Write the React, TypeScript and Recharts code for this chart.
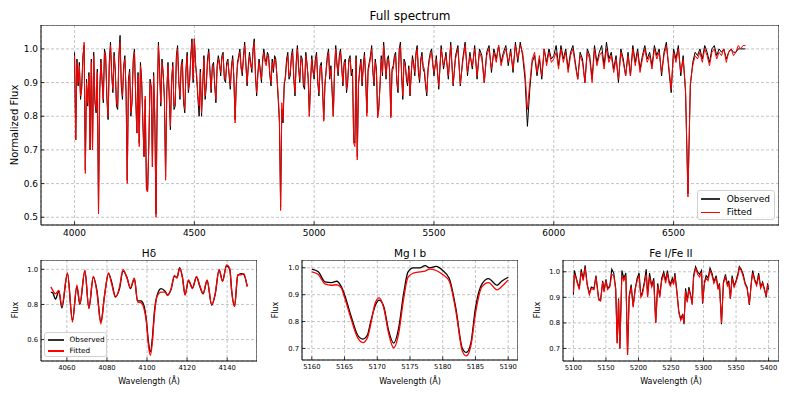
import React from "react";
import { CartesianGrid, Line, LineChart, ReferenceArea, XAxis, YAxis } from "recharts";

// Full spectrum, blue part: every 5 Å from 4000 to 5500
const BLUE_START = 4000;
const BLUE_STEP = 5;
const BLUE_FIT = [
  0.98, 0.73, 0.96, 0.90, 0.95, 0.86, 0.88, 0.97, 1.02, 0.63, 0.90, 0.84, 0.92, 0.70, 0.96, 0.70, 0.98, 0.85, 0.82, 0.93,
  0.51, 0.88, 0.96, 0.90, 0.85, 0.99, 0.97, 0.86, 0.80, 0.95, 1.01, 0.92, 0.88, 0.98, 0.93, 0.84, 0.83, 0.97, 1.02, 0.90,
  0.86, 0.94, 0.97, 0.88, 0.60, 0.90, 0.93, 0.81, 0.85, 0.96, 0.99, 0.87, 0.75, 0.92, 0.71, 0.95, 0.90, 0.79, 0.68, 0.86,
  0.58, 0.575, 0.72, 0.90, 0.88, 0.65, 0.92, 0.80, 0.50, 0.85, 1.01, 0.93, 0.84, 0.96, 0.92, 0.86, 0.61, 0.88, 0.95, 0.87,
  0.77, 0.91, 0.95, 0.83, 0.84, 0.97, 1.00, 0.90, 0.86, 0.94, 0.96, 0.85, 0.82, 0.93, 0.98, 0.88, 0.90, 0.97, 1.02, 0.91,
  1.03, 0.95, 0.92, 0.86, 0.83, 0.93, 0.81, 0.90, 0.97, 0.86, 0.90, 0.96, 0.99, 0.93, 0.88, 0.94, 0.95, 0.90, 0.85, 0.94,
  0.97, 0.95, 0.93, 0.97, 0.98, 0.92, 0.91, 0.95, 0.96, 0.93, 0.89, 0.94, 0.97, 0.92, 0.78, 0.90, 0.95, 0.97, 0.99, 0.94,
  0.93, 0.97, 1.01, 0.95, 0.90, 0.94, 0.98, 0.95, 0.94, 0.99, 1.02, 0.93, 0.87, 0.92, 0.96, 0.93, 0.91, 0.96, 0.99, 0.96,
  0.95, 0.98, 0.97, 0.93, 0.90, 0.96, 0.94, 0.97, 0.96, 0.92, 0.86, 0.80, 0.52, 0.84, 0.79, 0.90, 0.91, 0.96, 0.98, 0.92,
  0.93, 0.97, 0.99, 0.92, 0.87, 0.95, 1.00, 0.94, 0.91, 0.97, 0.96, 0.90, 0.89, 0.98, 0.95, 0.92, 0.80, 0.91, 0.97, 0.93,
  0.92, 0.96, 0.98, 0.91, 0.87, 0.94, 0.95, 0.89, 0.785, 0.90, 0.93, 0.97, 0.99, 0.92, 0.94, 0.88, 0.80, 0.93, 1.00, 0.95,
  0.93, 0.97, 0.99, 0.94, 0.90, 0.95, 0.96, 0.88, 0.91, 0.96, 0.97, 0.93, 0.93, 0.72, 0.71, 0.97, 0.67, 0.90, 0.93, 0.96,
  0.90, 0.94, 0.98, 0.92, 0.80, 0.93, 0.95, 0.97, 1.00, 0.94, 0.90, 0.96, 0.93, 0.795, 0.82, 0.90, 0.97, 0.93, 1.01, 0.96,
  0.92, 0.96, 0.97, 0.94, 0.795, 0.93, 0.94, 0.97, 0.98, 0.91, 0.88, 0.99, 1.01, 0.93, 0.86, 0.96, 0.95, 0.92, 0.90, 0.94,
  0.865, 0.93, 0.97, 0.95, 0.93, 0.98, 1.00, 0.94, 0.91, 0.96, 0.98, 0.95, 0.94, 0.90, 0.87, 0.93, 0.96, 0.98, 0.99, 0.95,
  0.93,
];
const BLUE_OBS = [
  0.99, 0.73, 0.97, 0.89, 0.96, 0.85, 0.89, 0.98, 1.01, 0.64, 0.91, 0.83, 0.93, 0.70, 0.97, 0.70, 0.99, 0.84, 0.81, 0.94,
  0.51, 0.87, 0.97, 0.91, 0.84, 1.00, 0.98, 0.85, 0.79, 0.96, 1.02, 0.93, 0.87, 0.99, 0.94, 0.83, 0.82, 0.98, 1.04, 0.89,
  0.85, 0.95, 0.98, 0.87, 0.61, 0.91, 0.94, 0.80, 0.84, 0.97, 1.00, 0.86, 0.75, 0.93, 0.72, 0.96, 0.91, 0.78, 0.68, 0.85,
  0.59, 0.58, 0.71, 0.91, 0.89, 0.65, 0.93, 0.79, 0.51, 0.84, 1.02, 0.94, 0.83, 0.97, 0.93, 0.85, 0.62, 0.87, 0.96, 0.86,
  0.76, 0.90, 0.96, 0.82, 0.83, 0.98, 1.01, 0.91, 0.85, 0.95, 0.97, 0.84, 0.81, 0.94, 0.99, 0.87, 0.90, 0.98, 1.03, 0.90,
  1.03, 0.96, 0.91, 0.85, 0.80, 0.94, 0.80, 0.89, 0.98, 0.85, 0.89, 0.97, 1.00, 0.94, 0.87, 0.95, 0.96, 0.89, 0.84, 0.95,
  0.98, 0.96, 0.92, 0.98, 0.99, 0.91, 0.90, 0.96, 0.97, 0.92, 0.88, 0.95, 0.98, 0.91, 0.79, 0.89, 0.96, 0.98, 1.00, 0.95,
  0.92, 0.98, 1.02, 0.96, 0.89, 0.95, 0.99, 0.96, 0.93, 1.00, 1.03, 0.92, 0.86, 0.93, 0.97, 0.94, 0.90, 0.97, 1.00, 0.97,
  0.96, 0.99, 0.98, 0.92, 0.89, 0.97, 0.93, 0.98, 0.97, 0.91, 0.85, 0.78, 0.53, 0.82, 0.78, 0.89, 0.92, 0.97, 0.99, 0.91,
  0.92, 0.98, 1.00, 0.91, 0.86, 0.96, 1.01, 0.95, 0.90, 0.98, 0.97, 0.89, 0.88, 0.99, 0.96, 0.91, 0.80, 0.90, 0.98, 0.94,
  0.91, 0.97, 0.99, 0.90, 0.86, 0.95, 0.96, 0.88, 0.79, 0.89, 0.94, 0.98, 1.00, 0.91, 0.95, 0.87, 0.80, 0.94, 1.01, 0.96,
  0.92, 0.98, 1.00, 0.95, 0.89, 0.96, 0.97, 0.87, 0.90, 0.97, 0.98, 0.92, 0.94, 0.73, 0.72, 0.98, 0.68, 0.89, 0.94, 0.97,
  0.89, 0.95, 0.99, 0.91, 0.81, 0.94, 0.96, 0.98, 1.01, 0.93, 0.89, 0.97, 0.94, 0.80, 0.83, 0.89, 0.98, 0.92, 1.02, 0.97,
  0.91, 0.97, 0.98, 0.93, 0.80, 0.94, 0.95, 0.98, 0.99, 0.90, 0.87, 1.00, 1.02, 0.92, 0.85, 0.97, 0.96, 0.91, 0.89, 0.95,
  0.86, 0.92, 0.98, 0.96, 0.92, 0.99, 1.01, 0.93, 0.90, 0.97, 0.99, 0.94, 0.93, 0.89, 0.86, 0.94, 0.97, 0.99, 1.00, 0.96,
  0.92,
];

// Full spectrum, red part: every 10 Å from 5510 to 6800
const RED_START = 5510;
const RED_STEP = 10;
const RED_FIT = [
  0.97, 0.89, 1.00, 0.95, 0.98, 0.92, 1.01, 0.895, 0.97,
  1.00, 0.895, 0.96, 1.01, 0.93, 0.98, 0.95, 1.00, 0.92, 0.99,
  0.97, 0.90, 0.98, 1.00, 0.94, 0.99, 0.96, 1.01, 0.95, 0.98,
  1.00, 0.96, 0.99, 0.94, 1.01, 0.97, 1.01, 0.99, 0.93, 0.82,
  0.90, 0.97, 0.99, 0.93, 0.98, 0.92, 1.00, 0.95, 0.99, 0.96,
  0.97, 0.99, 0.94, 1.00, 0.96, 0.99, 0.93, 0.98, 1.00, 0.95,
  0.91, 0.98, 0.96, 0.90, 0.99, 0.97, 0.90, 1.00, 0.95, 0.98,
  0.99, 0.94, 1.00, 0.96, 0.98, 0.93, 0.97, 0.91, 0.99, 0.96,
  0.92, 0.98, 0.92, 1.00, 0.95, 0.99, 0.93, 0.97, 1.00, 0.96,
  0.98, 0.94, 1.00, 0.97, 0.99, 0.93, 0.98, 1.01, 0.95, 0.88,
  0.99, 0.96, 1.00, 0.93, 0.97, 0.88, 0.56, 0.90, 0.95, 0.98,
  0.97, 0.99, 0.96, 1.00, 0.98, 0.95, 0.99, 1.00, 0.97, 0.99,
  0.98, 1.00, 0.96, 0.99, 1.00, 0.98, 0.99, 1.01, 1.00, 1.01,
  1.01,
];
const RED_OBS = [
  0.98, 0.88, 1.01, 0.94, 0.99, 0.91, 1.02, 0.89, 0.98,
  1.01, 0.89, 0.97, 1.02, 0.92, 0.99, 0.94, 1.01, 0.91, 1.00,
  0.98, 0.90, 0.99, 1.01, 0.93, 1.00, 0.97, 1.01, 0.96, 0.99,
  1.01, 0.95, 1.00, 0.93, 1.02, 0.96, 1.02, 0.98, 0.91, 0.77,
  0.88, 0.96, 0.98, 0.92, 0.97, 0.91, 1.00, 0.96, 1.00, 0.97,
  0.98, 1.01, 0.95, 1.01, 0.97, 1.00, 0.94, 0.99, 1.01, 0.96,
  0.91, 0.99, 0.97, 0.90, 1.00, 0.98, 0.91, 1.01, 0.96, 0.99,
  1.01, 0.95, 1.02, 0.97, 0.99, 0.94, 0.98, 0.90, 1.00, 0.97,
  0.92, 0.99, 0.92, 1.01, 0.96, 1.00, 0.94, 0.98, 1.01, 0.97,
  0.99, 0.95, 1.01, 0.98, 1.00, 0.92, 0.99, 1.02, 0.94, 0.87,
  1.00, 0.97, 1.01, 0.92, 0.98, 0.87, 0.57, 0.89, 0.96, 0.99,
  0.98, 1.00, 0.97, 1.01, 0.99, 0.96, 1.00, 1.01, 0.98, 1.00,
  0.99, 1.00, 0.97, 0.99, 1.00, 0.99, 0.99, 1.00, 1.00, 1.00,
  1.00,
];

const BLUE_WAVE = BLUE_FIT.map((_, i) => BLUE_START + i * BLUE_STEP);
const RED_WAVE = RED_FIT.map((_, i) => RED_START + i * RED_STEP);

// H-delta window
const HD_WAVE = [
  4052, 4053, 4054.3, 4056, 4057.5, 4060.3, 4062.8, 4065, 4066.5, 4069,
  4071, 4073.2, 4075, 4077, 4078.8, 4080.8, 4082.3, 4084.3, 4086.3, 4088,
  4090, 4091.7, 4093.7, 4095.3, 4097, 4098.3, 4099.7, 4100.7, 4101.7, 4102.7,
  4103.7, 4105, 4107, 4109, 4110.3, 4112, 4113.7, 4115, 4116.3, 4117.7,
  4119, 4120.7, 4122.7, 4124.7, 4126.3, 4128, 4130, 4132.3, 4134, 4136,
  4137.7, 4139.7, 4141.3, 4142.3, 4143.7, 4145.3, 4147, 4148.3, 4150,
];
const HD_FIT = [
  0.90, 0.88, 0.86, 0.88, 0.79, 0.98, 0.70, 0.91, 0.805, 0.995,
  0.777, 0.96, 0.87, 0.69, 0.85, 0.98, 0.92, 0.84, 0.90, 1.0,
  0.95, 0.895, 0.95, 0.815, 0.81, 0.785, 0.70, 0.57, 0.51, 0.59,
  0.74, 0.845, 0.87, 0.87, 0.85, 0.89, 0.965, 0.95, 1.005, 0.95,
  0.853, 0.94, 0.89, 0.96, 0.91, 0.863, 0.94, 0.80, 0.86, 1.0,
  0.93, 1.025, 1.005, 0.87, 0.787, 0.97, 0.968, 0.975, 0.90,
];
const HD_OBS = [
  0.87, 0.865, 0.83, 0.875, 0.78, 0.975, 0.71, 0.90, 0.80, 0.99,
  0.78, 0.955, 0.88, 0.70, 0.85, 0.975, 0.93, 0.845, 0.89, 0.99,
  0.955, 0.89, 0.945, 0.82, 0.82, 0.80, 0.71, 0.59, 0.53, 0.61,
  0.76, 0.85, 0.89, 0.875, 0.855, 0.885, 0.96, 0.955, 1.01, 0.955,
  0.855, 0.935, 0.895, 0.955, 0.905, 0.86, 0.935, 0.795, 0.855, 0.995,
  0.935, 1.02, 1.0, 0.875, 0.79, 0.965, 0.975, 0.97, 0.905,
];

// Mg I b triplet window
const MG_WAVE = [
  5160, 5161, 5162, 5163, 5163.8, 5164.5, 5165, 5166, 5167, 5167.8,
  5168.5, 5169, 5169.7, 5170.3, 5171, 5171.7, 5172.5, 5173.3, 5174, 5174.7,
  5175.5, 5176.5, 5177.3, 5178, 5179, 5180, 5181, 5182, 5183, 5183.6,
  5184.3, 5185, 5186, 5187, 5188.3, 5189, 5190,
];
const MG_OBS = [
  0.995, 0.985, 0.948, 0.945, 0.95, 0.93, 0.90, 0.82, 0.75, 0.735,
  0.75, 0.80, 0.86, 0.88, 0.855, 0.77, 0.72, 0.78, 0.90, 0.985,
  1.0, 1.0, 1.008, 1.0, 1.005, 0.99, 0.96, 0.85, 0.70, 0.685,
  0.72, 0.85, 0.94, 0.96, 0.935, 0.95, 0.965,
];
const MG_FIT = [
  0.985, 0.975, 0.94, 0.935, 0.937, 0.925, 0.89, 0.81, 0.74, 0.722,
  0.74, 0.79, 0.87, 0.888, 0.85, 0.76, 0.702, 0.76, 0.88, 0.965,
  0.98, 0.985, 0.988, 0.995, 0.99, 0.975, 0.95, 0.84, 0.69, 0.672,
  0.71, 0.83, 0.93, 0.945, 0.918, 0.93, 0.955,
];

// Fe I / Fe II window
const FE_WAVE = [
  5100, 5101.5, 5104, 5106, 5109, 5112, 5115, 5118, 5121, 5124.5,
  5127.5, 5131.6, 5134.7, 5138.8, 5141.8, 5145, 5147, 5150, 5152.5, 5156,
  5159, 5162, 5165, 5167.3, 5169.4, 5171.4, 5174.5, 5177.5, 5180.6, 5183.2,
  5185.7, 5188.8, 5191.8, 5195, 5198, 5201, 5203.6, 5206, 5209, 5212,
  5214, 5217, 5220.4, 5223.5, 5226.5, 5229.6, 5232.7, 5235.7, 5238.8, 5241.8,
  5244.4, 5247, 5249, 5252, 5254, 5256, 5259, 5262, 5265, 5268,
  5270, 5272.4, 5275, 5277.5, 5280.6, 5282.6, 5284.7, 5287.8, 5290.8, 5293.9,
  5297, 5298.5, 5301.5, 5304, 5307, 5310, 5313, 5316, 5319.4, 5322.4,
  5324.5, 5327.6, 5330.6, 5333.7, 5336.7, 5338.8, 5341.3, 5343.9, 5347, 5350,
  5353, 5355, 5358, 5361, 5364, 5367, 5370.4, 5373.5, 5375.5, 5378.6,
  5381.6, 5384.7, 5387.8, 5390.8, 5393.9, 5396.4, 5398.5, 5400,
];
const FE_FIT = [
  0.92, 0.99, 0.975, 0.955, 0.93, 1.0, 0.965, 1.015, 0.95, 0.91,
  0.935, 0.93, 0.98, 0.89, 0.885, 0.96, 0.92, 0.965, 0.93, 0.94,
  0.99, 0.985, 0.93, 0.72, 0.89, 0.70, 0.985, 0.965, 0.985, 0.675,
  0.90, 0.94, 0.86, 0.93, 0.965, 0.985, 0.90, 0.91, 0.95, 0.99,
  0.90, 0.98, 0.94, 0.965, 0.80, 0.945, 0.90, 0.965, 0.99, 0.955,
  0.995, 0.955, 0.945, 0.965, 0.95, 0.985, 0.92, 0.84, 0.81, 0.83,
  0.80, 0.925, 0.88, 0.93, 0.90, 0.87, 0.975, 1.015, 0.99, 0.98,
  0.995, 0.88, 0.955, 0.975, 0.965, 1.005, 0.985, 0.955, 0.975, 0.93,
  0.95, 0.80, 0.955, 0.98, 0.945, 0.955, 0.895, 0.975, 0.94, 0.96,
  0.985, 1.015, 1.005, 0.98, 0.95, 0.935, 0.875, 0.955, 0.995, 0.965,
  0.945, 0.985, 0.935, 0.955, 0.925, 0.905, 0.95, 0.935,
];
const FE_OBS = [
  0.91, 1.005, 0.98, 0.96, 0.935, 1.01, 0.97, 1.025, 0.955, 0.915,
  0.94, 0.935, 0.985, 0.895, 0.89, 0.965, 0.925, 0.97, 0.935, 0.945,
  1.01, 0.995, 0.935, 0.72, 0.895, 0.70, 1.005, 0.975, 0.995, 0.675,
  0.905, 0.95, 0.865, 0.935, 0.975, 0.995, 0.905, 0.92, 0.96, 1.01,
  0.905, 0.995, 0.945, 0.975, 0.80, 0.955, 0.905, 0.975, 1.0, 0.965,
  1.005, 0.965, 0.95, 0.975, 0.955, 0.995, 0.925, 0.845, 0.815, 0.835,
  0.795, 0.935, 0.885, 0.94, 0.905, 0.875, 0.985, 1.02, 1.0, 0.99,
  1.005, 0.875, 0.96, 0.985, 0.975, 1.015, 0.995, 0.96, 0.985, 0.935,
  0.955, 0.795, 0.96, 0.99, 0.95, 0.965, 0.895, 0.985, 0.945, 0.965,
  0.995, 1.02, 1.01, 0.99, 0.955, 0.94, 0.87, 0.96, 1.005, 0.97,
  0.95, 0.995, 0.94, 0.96, 0.93, 0.90, 0.955, 0.93,
];

type Row = { w: number; obs: number; fit: number };

const rows = (w: number[], obs: number[], fit: number[]): Row[] =>
  w.map((x, i) => ({ w: x, obs: obs[i], fit: fit[i] }));

const FONT = "'DejaVu Sans', sans-serif";
const Y_AXIS_W = 40;
const X_AXIS_H = 26;

type PanelProps = {
  data: Row[];
  box: { x: number; y: number; w: number; h: number };
  xDomain: [number, number];
  yDomain: [number, number];
  xTicks: number[];
  yTicks: number[];
  fontSize: number;
  lineWidth: number;
  curve: "linear" | "monotone";
};

function Panel({ data, box, xDomain, yDomain, xTicks, yTicks, fontSize, lineWidth, curve }: PanelProps) {
  const xTick = (p: any) => (
    <g>
      <line x1={p.x} x2={p.x} y1={p.y} y2={p.y - 3.5} stroke="#000" strokeWidth={0.8} />
      <text x={p.x} y={p.y + fontSize + 2} textAnchor="middle" fontSize={fontSize} fill="#000" fontFamily={FONT}>
        {p.payload.value}
      </text>
    </g>
  );
  const yTick = (p: any) => (
    <g>
      <line x1={p.x} x2={p.x + 3.5} y1={p.y} y2={p.y} stroke="#000" strokeWidth={0.8} />
      <text x={p.x - 3} y={p.y + fontSize * 0.36} textAnchor="end" fontSize={fontSize} fill="#000" fontFamily={FONT}>
        {Number(p.payload.value).toFixed(1)}
      </text>
    </g>
  );
  return (
    <div style={{ position: "absolute", left: box.x - Y_AXIS_W, top: box.y }}>
      <LineChart
        width={box.w + Y_AXIS_W}
        height={box.h + X_AXIS_H}
        data={data}
        margin={{ top: 0, right: 0, bottom: 0, left: 0 }}
      >
        <CartesianGrid stroke="#b5b5b5" strokeDasharray="3 2" strokeWidth={0.8} />
        <XAxis
          type="number"
          dataKey="w"
          domain={xDomain}
          ticks={xTicks}
          interval={0}
          allowDataOverflow
          height={X_AXIS_H}
          tickSize={0}
          tickMargin={0}
          tickLine={false}
          axisLine={false}
          tick={xTick}
        />
        <YAxis
          type="number"
          domain={yDomain}
          ticks={yTicks}
          interval={0}
          allowDataOverflow
          width={Y_AXIS_W}
          tickSize={0}
          tickMargin={0}
          tickLine={false}
          axisLine={false}
          tick={yTick}
        />
        <Line type={curve} dataKey="obs" stroke="#000000" strokeWidth={lineWidth} dot={false} isAnimationActive={false} />
        <Line type={curve} dataKey="fit" stroke="#ff0000" strokeWidth={lineWidth} dot={false} isAnimationActive={false} />
        <ReferenceArea
          x1={xDomain[0]}
          x2={xDomain[1]}
          y1={yDomain[0]}
          y2={yDomain[1]}
          fill="none"
          stroke="#000"
          strokeWidth={1}
          ifOverflow="visible"
        />
      </LineChart>
    </div>
  );
}

function LegendBox({ x, y, w, h, fontSize, rowGap, lineLen }: { x: number; y: number; w: number; h: number; fontSize: number; rowGap: number; lineLen: number }) {
  const items = [
    { name: "Observed", color: "#333" },
    { name: "Fitted", color: "#ff0000" },
  ];
  return (
    <div
      style={{
        position: "absolute",
        left: x,
        top: y,
        width: w,
        height: h,
        boxSizing: "border-box",
        border: "1px solid #d0d0d0",
        borderRadius: 3,
        background: "rgba(255,255,255,0.85)",
        fontFamily: FONT,
        fontSize,
      }}
    >
      {items.map((it, i) => (
        <div
          key={it.name}
          style={{ position: "absolute", left: 3, top: (h - rowGap) / 2 - fontSize * 0.6 + i * rowGap, display: "flex", alignItems: "center", lineHeight: `${fontSize * 1.2}px` }}
        >
          <span style={{ display: "inline-block", width: lineLen, height: 1.5, background: it.color, marginRight: lineLen * 0.35 }} />
          <span>{it.name}</span>
        </div>
      ))}
    </div>
  );
}

const Label = ({ x, y, text, size, rotate }: { x: number; y: number; text: string; size: number; rotate?: boolean }) => (
  <div
    style={{
      position: "absolute",
      left: x,
      top: y,
      transform: `translate(-50%, -50%)${rotate ? " rotate(-90deg)" : ""}`,
      fontSize: size,
      fontFamily: FONT,
      whiteSpace: "nowrap",
      color: "#000",
    }}
  >
    {text}
  </div>
);

export default function App() {
  const full = [...rows(BLUE_WAVE, BLUE_OBS, BLUE_FIT), ...rows(RED_WAVE, RED_OBS, RED_FIT)];
  const hd = rows(HD_WAVE, HD_OBS, HD_FIT);
  const mg = rows(MG_WAVE, MG_OBS, MG_FIT);
  const fe = rows(FE_WAVE, FE_OBS, FE_FIT);

  return (
    <div style={{ position: "absolute", left: 0, top: 0, width: 793, height: 397, background: "#fff", overflow: "hidden" }}>
      <Label x={410} y={16} text="Full spectrum" size={12} />
      <Label x={14} y={125} text="Normalized Flux" size={10} rotate />
      <Panel
        data={full}
        box={{ x: 41, y: 25, w: 738, h: 200 }}
        xDomain={[3860, 6940]}
        yDomain={[0.477, 1.071]}
        xTicks={[4000, 4500, 5000, 5500, 6000, 6500]}
        yTicks={[0.5, 0.6, 0.7, 0.8, 0.9, 1.0]}
        fontSize={9}
        lineWidth={1}
        curve="linear"
      />
      <LegendBox x={697} y={190} w={78} h={30} fontSize={9} rowGap={13.5} lineLen={19} />

      <Label x={149} y={253} text="Hδ" size={10.5} />
      <Label x={15} y={310} text="Flux" size={8} rotate />
      <Label x={149} y={381} text="Wavelength (Å)" size={8} />
      <Panel
        data={hd}
        box={{ x: 41, y: 260, w: 216, h: 101 }}
        xDomain={[4047.1, 4154.9]}
        yDomain={[0.478, 1.053]}
        xTicks={[4060, 4080, 4100, 4120, 4140]}
        yTicks={[0.6, 0.8, 1.0]}
        fontSize={6.8}
        lineWidth={1.3}
        curve="monotone"
      />
      <LegendBox x={44} y={332} w={63} h={25} fontSize={7.3} rowGap={11} lineLen={16} />

      <Label x={410} y={253} text="Mg I b" size={10.5} />
      <Label x={275} y={310} text="Flux" size={8} rotate />
      <Label x={410} y={381} text="Wavelength (Å)" size={8} />
      <Panel
        data={mg}
        box={{ x: 302, y: 260, w: 216, h: 100 }}
        xDomain={[5158.5, 5191.5]}
        yDomain={[0.657, 1.029]}
        xTicks={[5160, 5165, 5170, 5175, 5180, 5185, 5190]}
        yTicks={[0.7, 0.8, 0.9, 1.0]}
        fontSize={6.8}
        lineWidth={1.3}
        curve="monotone"
      />

      <Label x={671} y={253} text="Fe I/Fe II" size={10.5} />
      <Label x={537} y={310} text="Flux" size={8} rotate />
      <Label x={671} y={381} text="Wavelength (Å)" size={8} />
      <Panel
        data={fe}
        box={{ x: 563, y: 260, w: 216, h: 101 }}
        xDomain={[5084, 5416]}
        yDomain={[0.651, 1.046]}
        xTicks={[5100, 5150, 5200, 5250, 5300, 5350, 5400]}
        yTicks={[0.7, 0.8, 0.9, 1.0]}
        fontSize={6.8}
        lineWidth={1.1}
        curve="linear"
      />
    </div>
  );
}
